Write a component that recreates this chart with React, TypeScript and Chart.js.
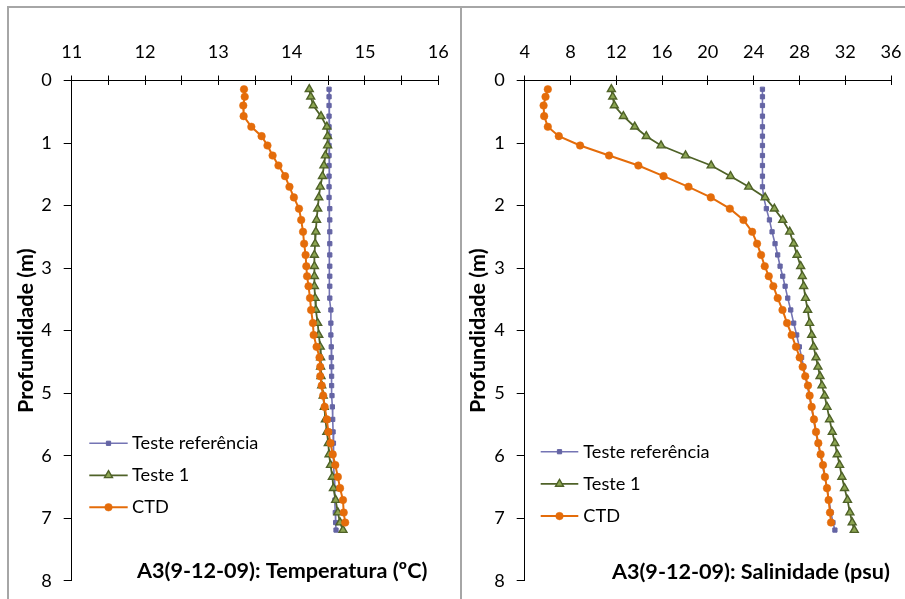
import React, { useEffect, useRef } from 'react';
import { Chart, registerables } from 'chart.js';
import { drawPoint } from 'chart.js/helpers';

Chart.register(...registerables);

// ---- Data ----
const depths = [0.14, 0.26, 0.40, 0.57, 0.74, 0.89, 1.04, 1.20, 1.36, 1.53, 1.70, 1.87, 2.05, 2.23, 2.42, 2.61, 2.79, 2.97, 3.13, 3.29, 3.48, 3.67, 3.88, 4.07, 4.26, 4.43, 4.58, 4.73, 4.88, 5.04, 5.22, 5.42, 5.62, 5.80, 5.98, 6.15, 6.34, 6.52, 6.71, 6.91, 7.07, 7.19];

const tempRef = [14.51, 14.51, 14.51, 14.51, 14.51, 14.51, 14.51, 14.51, 14.51, 14.51, 14.51, 14.51, 14.52, 14.52, 14.52, 14.52, 14.52, 14.52, 14.52, 14.52, 14.52, 14.535, 14.535, 14.535, 14.54, 14.54, 14.545, 14.545, 14.545, 14.55, 14.555, 14.56, 14.565, 14.57, 14.57, 14.575, 14.58, 14.585, 14.59, 14.595, 14.60, 14.605];
const tempTeste1 = [14.24, 14.26, 14.295, 14.40, 14.48, 14.49, 14.49, 14.46, 14.44, 14.42, 14.39, 14.37, 14.355, 14.34, 14.33, 14.32, 14.31, 14.31, 14.31, 14.31, 14.32, 14.33, 14.355, 14.37, 14.39, 14.395, 14.395, 14.40, 14.41, 14.43, 14.445, 14.46, 14.48, 14.50, 14.51, 14.53, 14.555, 14.57, 14.60, 14.63, 14.66, 14.70];
const tempCTD = [13.35, 13.36, 13.34, 13.345, 13.45, 13.59, 13.67, 13.74, 13.82, 13.91, 13.97, 14.03, 14.10, 14.13, 14.155, 14.17, 14.19, 14.20, 14.21, 14.23, 14.25, 14.265, 14.29, 14.30, 14.34, 14.38, 14.39, 14.39, 14.41, 14.43, 14.45, 14.48, 14.50, 14.53, 14.56, 14.595, 14.63, 14.66, 14.70, 14.71, 14.73];

const salRef = [24.77, 24.77, 24.77, 24.77, 24.77, 24.77, 24.77, 24.77, 24.77, 24.77, 24.77, 24.88, 25.11, 25.38, 25.61, 25.87, 26.10, 26.31, 26.54, 26.75, 26.98, 27.24, 27.50, 27.76, 27.99, 28.19, 28.37, 28.51, 28.69, 28.86, 29.04, 29.24, 29.41, 29.62, 29.82, 30.02, 30.20, 30.41, 30.58, 30.76, 30.93, 31.10];
const salTeste1 = [11.57, 11.69, 11.83, 12.62, 13.61, 14.62, 15.91, 18.05, 20.29, 21.98, 23.57, 25.00, 25.81, 26.54, 27.15, 27.50, 27.79, 28.11, 28.25, 28.37, 28.53, 28.72, 28.89, 29.07, 29.24, 29.45, 29.62, 29.80, 29.97, 30.20, 30.41, 30.63, 30.87, 31.10, 31.30, 31.51, 31.71, 31.94, 32.20, 32.41, 32.61, 32.79];
const salCTD = [6.02, 5.82, 5.65, 5.70, 6.02, 6.98, 8.84, 11.37, 13.93, 16.13, 18.31, 20.26, 21.92, 23.11, 23.87, 24.30, 24.65, 24.97, 25.32, 25.72, 26.10, 26.52, 26.92, 27.32, 27.70, 28.02, 28.28, 28.51, 28.75, 28.89, 29.07, 29.27, 29.45, 29.65, 29.85, 30.06, 30.23, 30.41, 30.55, 30.67, 30.76];

const seriesLabels = ['Teste referência', 'Teste 1', 'CTD'];
const tempTicks = { min: 11, max: 16, step: 0.5 };
const salTicks = { min: 4, max: 36, step: 4 };
const depthTicks = { min: 0, max: 8, step: 1 };
const yTitle = 'Profundidade (m)';
const tempTitle = 'A3(9-12-09): Temperatura (ºC)';
const salTitle = 'A3(9-12-09): Salinidade (psu)';

// ---- Styles ----
const FONT = 'Lato';
const TICK_SIZE = 18.2;
const BOLD_SIZE = 21.6;

const pair = (xs: number[]) => xs.map((x, i) => ({ x, y: depths[i] }));

function makeDatasets(ref: number[], t1: number[], ctd: number[]) {
  return [
    {
      label: seriesLabels[0], data: pair(ref), order: 2,
      borderColor: '#7474b4', borderWidth: 1.6,
      pointStyle: 'rect', pointRadius: 3, pointBorderWidth: 1,
      pointBackgroundColor: '#6464a4', pointBorderColor: '#6464a4',
    },
    {
      label: seriesLabels[1], data: pair(t1), order: 1,
      borderColor: '#4f6228', borderWidth: 1.8,
      pointStyle: 'triangle', pointRadius: 4.6, pointBorderWidth: 1.4,
      pointBackgroundColor: '#8ca552', pointBorderColor: '#4f6228',
    },
    {
      label: seriesLabels[2], data: pair(ctd), order: 0,
      borderColor: '#e46c0a', borderWidth: 2,
      pointStyle: 'circle', pointRadius: 3.8, pointBorderWidth: 0.5,
      pointBackgroundColor: '#e46c0a', pointBorderColor: '#e46c0a',
    },
  ];
}

const overlayPlugin = {
  id: 'overlay',
  afterDraw(chart: any, _args: any, opts: any) {
    const { ctx, chartArea } = chart;
    ctx.save();
    // inward half of the crossing x ticks
    const xs = chart.scales.x;
    ctx.strokeStyle = '#000';
    ctx.lineWidth = 1;
    ctx.beginPath();
    xs.ticks.forEach((t: any) => {
      const p = Math.round(xs.getPixelForValue(t.value) - 0.5) + 0.5;
      ctx.moveTo(p, chartArea.top);
      ctx.lineTo(p, chartArea.top + 4.5);
    });
    ctx.stroke();

    // legend
    const { lx, ly, gap, len, tgap } = opts;
    chart.data.datasets.forEach((ds: any, i: number) => {
      const y = ly + i * gap;
      ctx.strokeStyle = ds.borderColor;
      ctx.lineWidth = ds.borderWidth;
      ctx.beginPath();
      ctx.moveTo(lx, y);
      ctx.lineTo(lx + len, y);
      ctx.stroke();
      ctx.fillStyle = ds.pointBackgroundColor;
      ctx.strokeStyle = ds.pointBorderColor;
      ctx.lineWidth = ds.pointBorderWidth;
      drawPoint(ctx, { pointStyle: ds.pointStyle, radius: ds.pointRadius, borderWidth: ds.pointBorderWidth, rotation: 0 } as any, lx + len / 2, y);
      ctx.fillStyle = '#000';
      ctx.font = `${TICK_SIZE}px ${FONT}`;
      ctx.textAlign = 'left';
      ctx.textBaseline = 'middle';
      ctx.fillText(ds.label, lx + len + tgap, y);
    });

    // chart title inside plot
    ctx.font = `bold ${BOLD_SIZE}px ${FONT}`;
    ctx.fillStyle = '#000';
    ctx.textAlign = 'center';
    ctx.textBaseline = 'middle';
    ctx.fillText(opts.title, opts.tx, opts.ty);
    ctx.restore();
  },
};

type PanelCfg = {
  width: number; height: number;
  yAxisWidth: number; rightPad: number;
  xr: { min: number; max: number; step: number };
  labelInts: boolean;
  ds: any[];
  titlePad: number;
  overlay: any;
};

const zeroPad = (s: any) => { s.paddingLeft = 0; s.paddingRight = 0; s.paddingTop = 0; s.paddingBottom = 0; };

function Panel({ cfg }: { cfg: PanelCfg }) {
  const ref = useRef<HTMLCanvasElement>(null);
  useEffect(() => {
    const chart = new Chart(ref.current as HTMLCanvasElement, {
      type: 'scatter',
      data: { datasets: cfg.ds as any },
      plugins: [overlayPlugin as any],
      options: {
        animation: false,
        responsive: false,
        events: [],
        showLine: true,
        layout: { padding: { left: 0, top: 0, right: cfg.rightPad, bottom: 18.3 } },
        plugins: {
          legend: { display: false },
          tooltip: { enabled: false },
          overlay: cfg.overlay,
        } as any,
        scales: {
          x: {
            type: 'linear', position: 'top',
            min: cfg.xr.min, max: cfg.xr.max,
            afterFit: (s: any) => { s.height = 80.5; zeroPad(s); },
            border: { display: true, color: '#000', width: 1 },
            grid: { drawOnChartArea: false, drawTicks: true, tickLength: 5, color: '#000', tickColor: '#000' },
            ticks: {
              stepSize: cfg.xr.step, autoSkip: false, maxRotation: 0, padding: 12,
              color: '#000', font: { family: FONT, size: TICK_SIZE },
              callback: (v: any) => (cfg.labelInts && !Number.isInteger(v) ? '' : String(v)),
            },
          },
          y: {
            type: 'linear', position: 'left', reverse: true,
            min: depthTicks.min, max: depthTicks.max,
            afterFit: (s: any) => { s.width = cfg.yAxisWidth; zeroPad(s); },
            border: { display: true, color: '#000', width: 1 },
            grid: { drawOnChartArea: false, drawTicks: true, tickLength: 8, color: '#000', tickColor: '#000' },
            ticks: {
              stepSize: depthTicks.step, padding: 12, color: '#000',
              font: { family: FONT, size: TICK_SIZE },
            },
            title: {
              display: true, text: yTitle, color: '#000',
              font: { family: FONT, size: BOLD_SIZE, weight: 'bold' },
              padding: { top: cfg.titlePad, bottom: 0 },
            },
          },
        },
      } as any,
    });
    return () => chart.destroy();
  }, [cfg]);
  return <canvas ref={ref} width={cfg.width} height={cfg.height} style={{ display: 'block', width: cfg.width, height: cfg.height }} />;
}

const leftCfg: PanelCfg = {
  width: 460, height: 599, yAxisWidth: 71.7, rightPad: 21.7,
  xr: tempTicks, labelInts: true,
  ds: makeDatasets(tempRef, tempTeste1, tempCTD),
  titlePad: 12.8,
  overlay: { lx: 89.3, ly: 443.3, gap: 32, len: 38.4, tgap: 4.4, title: tempTitle, tx: 282.2, ty: 570.7 },
};

const rightCfg: PanelCfg = {
  width: 445, height: 599, yAxisWidth: 64.7, rightPad: 14,
  xr: salTicks, labelInts: false,
  ds: makeDatasets(salRef, salTeste1, salCTD),
  titlePad: 5.3,
  overlay: { lx: 80.7, ly: 451.7, gap: 32.2, len: 37.6, tgap: 5, title: salTitle, tx: 290.9, ty: 571.7 },
};

export default function App() {
  const border = '#a6a6a6';
  return (
    <div style={{ position: 'fixed', left: 0, top: 0, width: 905, height: 599, overflow: 'hidden', background: '#fff' }}>
      <div style={{ position: 'absolute', left: 0, top: 0 }}><Panel cfg={leftCfg} /></div>
      <div style={{ position: 'absolute', left: 460, top: 0 }}><Panel cfg={rightCfg} /></div>
      <div style={{ position: 'absolute', left: 7, top: 6, width: 898, height: 2, background: border }} />
      <div style={{ position: 'absolute', left: 7, top: 6, width: 2, height: 593, background: border }} />
      <div style={{ position: 'absolute', left: 459.5, top: 6, width: 2, height: 593, background: border }} />
    </div>
  );
}
